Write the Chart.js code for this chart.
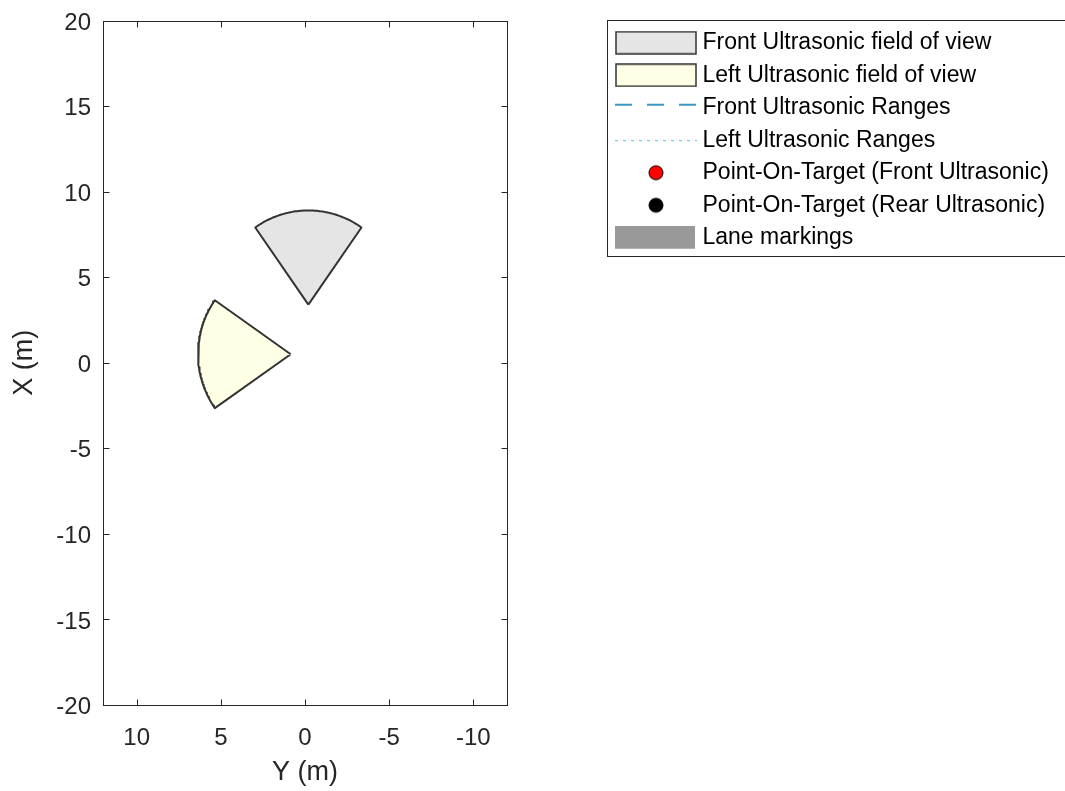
<!DOCTYPE html>
<html>
<head>
<meta charset="utf-8">
<script src="https://cdn.jsdelivr.net/npm/chart.js@4.4.1/dist/chart.umd.min.js"></script>
<style>
  html, body { margin: 0; padding: 0; background: #fff; }
</style>
</head>
<body>
<canvas id="mycanvas" width="1065" height="791"></canvas>
<script>
// sensor coverage (vehicle coords: X forward, Y left)
var sensorNames = ['Front Ultrasonic field of view', 'Left Ultrasonic field of view'];
var sensorX = [3.4, 0.5];        // m
var sensorY = [-0.2, 0.85];      // m
var sensorYaw = [0, 90];         // deg
var sensorFov = [70, 70];        // deg
var sensorRange = [5.5, 5.5];    // m
var sensorFill = ['#e5e5e5', '#ffffe5'];

var legendLabels = [
  'Front Ultrasonic field of view',
  'Left Ultrasonic field of view',
  'Front Ultrasonic Ranges',
  'Left Ultrasonic Ranges',
  'Point-On-Target (Front Ultrasonic)',
  'Point-On-Target (Rear Ultrasonic)',
  'Lane markings'
];

var yTicks = [10, 5, 0, -5, -10];
var xTicks = [-20, -15, -10, -5, 0, 5, 10, 15, 20];

var axisColor = '#262626';
var font = 'Liberation Sans, Arial, sans-serif';

// polygon for a sector: apex then the arc at full range
function sectorPoints(k) {
  var pts = [{x: sensorY[k], y: sensorX[k]}];
  var a0 = sensorYaw[k] - sensorFov[k] / 2;
  for (var d = 0; d <= sensorFov[k]; d++) {
    var a = (a0 + d) * Math.PI / 180;
    pts.push({x: sensorY[k] + sensorRange[k] * Math.sin(a), y: sensorX[k] + sensorRange[k] * Math.cos(a)});
  }
  pts.push({x: sensorY[k], y: sensorX[k]});
  return pts;
}

// legend symbols
function symbol(kind, color) {
  var c = document.createElement('canvas');
  c.width = 82; c.height = 24;
  var g = c.getContext('2d');
  if (kind == 'patch') {
    g.fillStyle = color; g.fillRect(1, 1, 80, 22);
    g.strokeStyle = '#333'; g.lineWidth = 1.5; g.strokeRect(1, 1, 80, 22);
  } else if (kind == 'lane') {
    g.fillStyle = '#999'; g.fillRect(0, 0, 80, 23);
  } else if (kind == 'dash') {
    g.strokeStyle = color; g.lineWidth = 1.6; g.setLineDash([17, 15]);
    g.beginPath(); g.moveTo(0, 9); g.lineTo(82, 9); g.stroke();
  } else if (kind == 'dot') {
    g.strokeStyle = color; g.lineWidth = 1; g.setLineDash([3, 5]);
    g.beginPath(); g.moveTo(0, 12.5); g.lineTo(82, 12.5); g.stroke();
  } else if (kind == 'marker') {
    g.fillStyle = color; g.strokeStyle = '#000'; g.lineWidth = 1;
    g.beginPath(); g.arc(41, 12, 7, 0, Math.PI * 2); g.fill(); g.stroke();
  }
  return c;
}
var symbols = [
  symbol('patch', sensorFill[0]),
  symbol('patch', sensorFill[1]),
  symbol('dash', '#0072bd'),
  symbol('dot', '#4dbeee'),
  symbol('marker', '#ff0000'),
  symbol('marker', '#000000'),
  symbol('lane')
];

var datasets = [];
for (var k = 0; k < sensorNames.length; k++) {
  datasets.push({
    label: sensorNames[k],
    data: sectorPoints(k),
    showLine: true,
    fill: 'shape',
    backgroundColor: sensorFill[k],
    borderColor: '#333',
    borderWidth: 2,
    borderJoinStyle: 'round',
    pointRadius: 0,
    tension: 0
  });
}
datasets.push({label: legendLabels[2], data: [], showLine: true, borderColor: '#0072bd', borderDash: [17, 15], pointRadius: 0});
datasets.push({label: legendLabels[3], data: [], showLine: true, borderColor: '#4dbeee', borderDash: [3, 5], pointRadius: 0});
datasets.push({label: legendLabels[4], data: [], backgroundColor: '#ff0000', borderColor: '#000', pointRadius: 7});
datasets.push({label: legendLabels[5], data: [], backgroundColor: '#000', borderColor: '#000', pointRadius: 7});
datasets.push({label: legendLabels[6], data: [], showLine: true, borderColor: '#999', pointRadius: 0});

// box around the axes with inward ticks, plus the legend frame
var framePlugin = {
  id: 'frame',
  afterLayout: function(chart) {
    var lg = chart.legend;
    lg.left = 611.5; lg.top = 21.7; lg.right = 1065; lg.bottom = 300;
    lg.width = lg.right - lg.left; lg.height = lg.bottom - lg.top;
  },
  afterDraw: function(chart) {
    var c = chart.ctx, a = chart.chartArea;
    var sx = chart.scales.x, sy = chart.scales.y;
    var l = Math.round(a.left) + 0.5, t = Math.round(a.top) + 0.5;
    var r = Math.round(a.right) + 0.5, b = Math.round(a.bottom) + 0.5;
    c.save();
    c.strokeStyle = axisColor;
    c.lineWidth = 1;
    c.strokeRect(l, t, r - l, b - t);
    c.beginPath();
    sx.ticks.forEach(function(tk) {
      var px = Math.round(sx.getPixelForValue(tk.value)) + 0.5;
      c.moveTo(px, b); c.lineTo(px, b - 6);
      c.moveTo(px, t); c.lineTo(px, t + 6);
    });
    sy.ticks.forEach(function(tk) {
      var py = Math.round(sy.getPixelForValue(tk.value)) + 0.5;
      if (py <= t + 1 || py >= b - 1) return;
      c.moveTo(l, py); c.lineTo(l + 6, py);
      c.moveTo(r, py); c.lineTo(r - 6, py);
    });
    c.stroke();
    c.strokeRect(607.5, 20.5, 470, 236);
    c.restore();
  }
};

var ctx = document.getElementById('mycanvas');

var chart = new Chart(ctx, {
  type: 'scatter',
  data: {datasets: datasets},
  plugins: [framePlugin],
  options: {
    responsive: false,
    animation: false,
    layout: {padding: {top: 20.5, left: 0, bottom: 0, right: 258}},
    plugins: {
      tooltip: {enabled: false},
      legend: {
        position: 'right',
        align: 'start',
        maxWidth: 300,
        labels: {
          usePointStyle: true,
          pointStyleWidth: 70,
          padding: 9.5,
          color: '#000',
          font: {family: font, size: 23},
          generateLabels: function(chart) {
            return legendLabels.map(function(t, i) {
              return {text: t, pointStyle: symbols[i], fillStyle: '#fff', strokeStyle: '#fff', lineWidth: 0, hidden: false, datasetIndex: i, fontColor: '#000'};
            });
          }
        }
      }
    },
    scales: {
      x: {
        type: 'linear',
        reverse: true,
        min: -12,
        max: 12,
        afterBuildTicks: function(s) { s.ticks = yTicks.map(function(v) { return {value: v}; }); },
        afterFit: function(s) { s.height = 86; s.paddingLeft = 0; s.paddingRight = 0; },
        grid: {display: false, drawTicks: false},
        border: {display: false},
        ticks: {color: axisColor, padding: 19, maxRotation: 0, font: {family: font, size: 24}},
        title: {display: true, text: 'Y (m)', color: axisColor, padding: {top: 0, bottom: 2}, font: {family: font, size: 27}}
      },
      y: {
        type: 'linear',
        min: -20,
        max: 20,
        afterBuildTicks: function(s) { s.ticks = xTicks.map(function(v) { return {value: v}; }); },
        afterFit: function(s) { s.width = 103; s.paddingTop = 0; s.paddingBottom = 0; },
        grid: {display: false, drawTicks: false},
        border: {display: false},
        ticks: {color: axisColor, padding: 12, labelOffset: 2.5, font: {family: font, size: 24}},
        title: {display: true, text: 'X (m)', color: axisColor, padding: {top: 8.7, bottom: 0}, font: {family: font, size: 27}}
      }
    }
  }
});
</script>
</body>
</html>
